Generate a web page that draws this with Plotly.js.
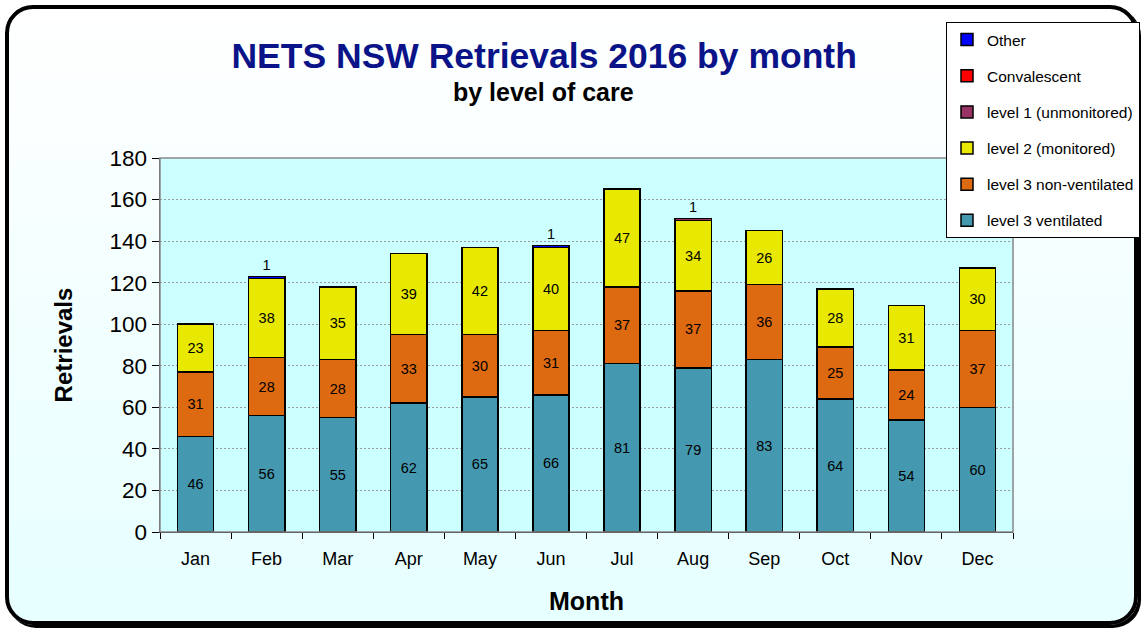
<!DOCTYPE html>
<html>
<head>
<meta charset="utf-8">
<script src="https://cdn.plot.ly/plotly-3.0.1.min.js"></script>
<style>
html,body{margin:0;padding:0;width:1148px;height:635px;overflow:hidden;background:#fff;}
#frame{position:absolute;left:5px;top:5px;width:1133px;height:620px;border:4px solid #000;border-radius:28px;
background:linear-gradient(to bottom,#ffffff 0%,#e6ffff 100%);box-shadow:3px 3px 0 #000;box-sizing:border-box;}
#chart{position:absolute;left:0;top:0;width:1148px;height:635px;}
</style>
</head>
<body>
<div id="frame"></div>
<div id="chart"></div>
<script>
const months = ["Jan","Feb","Mar","Apr","May","Jun","Jul","Aug","Sep","Oct","Nov","Dec"];
const level3Ventilated   = [46,56,55,62,65,66,81,79,83,64,54,60];
const level3NonVentilated= [31,28,28,33,30,31,37,37,36,25,24,37];
const level2Monitored    = [23,38,35,39,42,40,47,34,26,28,31,30];
const level1Unmonitored  = [null,null,null,null,null,null,null,1,null,null,null,null];
const convalescent       = [null,null,null,null,null,null,null,null,null,null,null,null];
const other              = [null,1,null,null,null,1,null,null,null,null,null,null];

const font = "Arial, 'Liberation Sans', sans-serif";
function tr(name, y, color, rank, pos){
  return {
    type:'bar', name:name, x:months, y:y, legendrank:rank, legendgroup:'g'+rank,
    marker:{color:color, line:{color:'#000', width:1.5}},
    text:y.map(v=>v==null?'':String(v)), textposition:pos||'inside',
    insidetextanchor:'middle', textangle:0,
    textfont:{family:font, size:14.5, color:'#000'},
    outsidetextfont:{family:font, size:14.5, color:'#000'},
    constraintext:'none', cliponaxis:false, hoverinfo:'x+y+name'
  };
}
const data = [
  tr('level 3 ventilated', level3Ventilated, '#4499B0', 6),
  tr('level 3 non-ventilated', level3NonVentilated, '#DD6A10', 5),
  tr('level 2 (monitored)', level2Monitored, '#E8E800', 4),
  tr('level 1 (unmonitored)', level1Unmonitored, '#993366', 3, 'outside'),
  tr('Convalescent', convalescent, '#FF0000', 2, 'outside'),
  tr('Other', other, '#0000FF', 1, 'outside')
];
const layout = {
  width:1148, height:635,
  paper_bgcolor:'rgba(0,0,0,0)', plot_bgcolor:'#CCFFFF',
  margin:{l:160, r:135, t:158, b:103, autoexpand:false},
  barmode:'stack', bargap:0.49,
  font:{family:font, color:'#000'},
  title:{text:'<b>NETS NSW Retrievals 2016 by month</b>', font:{family:font, size:35.5, color:'#0A1488'},
    x:0.474, xref:'container', xanchor:'center', y:0.913, yref:'container', yanchor:'middle'},
  annotations:[{text:'<b>by level of care</b>', xref:'paper', yref:'paper', x:(543-160)/853, y:(532-92)/374,
    xanchor:'center', yanchor:'middle', showarrow:false, font:{family:font, size:25, color:'#000'}}],
  xaxis:{type:'category', tickson:'boundaries', ticks:'outside', ticklen:6, tickcolor:'#000',
    showline:true, linecolor:'#000', linewidth:1, mirror:false, ticklabelstandoff:10,
    tickfont:{family:font, size:18}, showgrid:false,
    title:{text:'<b>Month</b>', font:{family:font, size:25}, standoff:24}},
  yaxis:{range:[0,180], dtick:20, ticks:'outside', ticklen:7, tickcolor:'#000',
    showline:true, linecolor:'#555', linewidth:1.5, showgrid:true, gridcolor:'#999', griddash:'2px,2px', gridwidth:1,
    tickfont:{family:font, size:22.5}, zeroline:false,
    title:{text:'<b>Retrievals</b>', font:{family:font, size:24}, standoff:30}},
  shapes:[{type:'rect', xref:'paper', yref:'paper', x0:0, x1:1, y0:0, y1:1, line:{color:'#888', width:1.5}, layer:'above'}],
  legend:{x:(946-160)/853, y:(532-22)/374, xanchor:'left', yanchor:'top', bgcolor:'#fff',
    bordercolor:'#000', borderwidth:1, traceorder:'grouped', tracegroupgap:13,
    font:{family:font, size:15.5, color:'#000'}, itemwidth:30, valign:'middle'},
  showlegend:true
};
Plotly.newPlot('chart', data, layout, {displayModeBar:false, staticPlot:true});
</script>
</body>
</html>
